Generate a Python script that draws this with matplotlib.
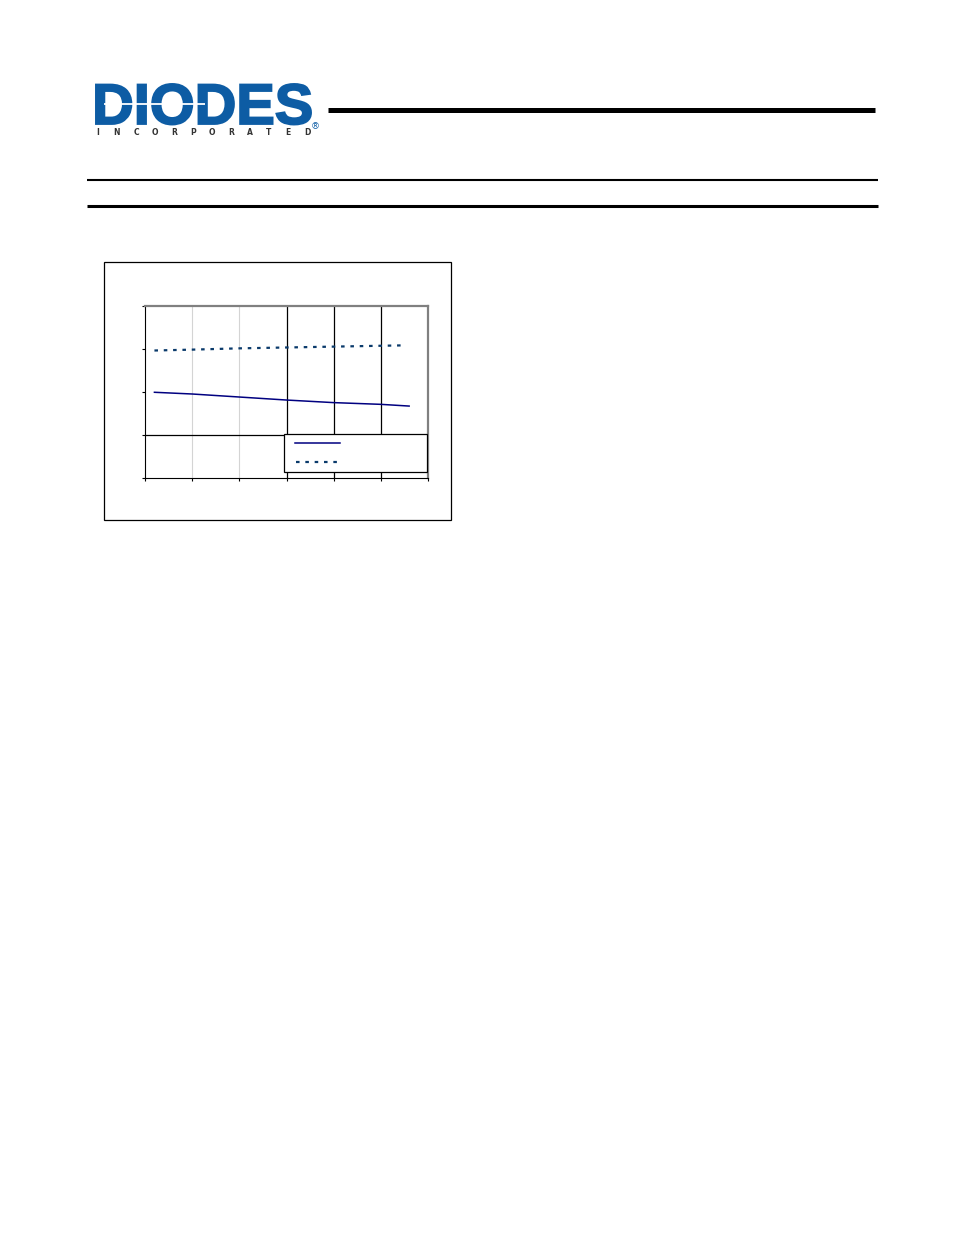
import numpy as np
import matplotlib
matplotlib.use("Agg")
import matplotlib.pyplot as plt
from matplotlib.lines import Line2D
from matplotlib.patches import Rectangle, PathPatch
from matplotlib.textpath import TextPath
from matplotlib.font_manager import FontProperties
from matplotlib.transforms import Affine2D

# chart data (units are axis steps)
x_solid = [0.2, 1, 2, 3, 4, 5, 5.6]
y_solid = [1.99, 1.95, 1.88, 1.81, 1.75, 1.71, 1.67]
x_dash = [0.2, 1, 2, 3, 4, 5, 5.53]
y_dash = [2.96, 2.98, 3.01, 3.03, 3.05, 3.07, 3.08]
x_ticks = [0, 1, 2, 3, 4, 5, 6]
y_ticks = [0, 1, 2, 3, 4]

W, H = 954, 1235
fig = plt.figure(figsize=(W / 100, H / 100), dpi=100)
fig.patch.set_facecolor("white")


def fx(x):
    return x / W


def fy(y):
    return 1 - y / H


def hline(x0, x1, y, lw, color="black"):
    fig.add_artist(Line2D([fx(x0), fx(x1)], [fy(y), fy(y)], lw=lw, color=color,
                          transform=fig.transFigure, solid_capstyle="butt"))


# --- header ---
blue = "#0d5ca4"
prop = FontProperties(family="Liberation Sans", weight="bold")
tp = TextPath((0, 0), "DIODES", size=100, prop=prop)
ext = tp.get_extents()
sx = 215 / ext.width
sy = 40.5 / ext.height
tr = Affine2D().translate(-ext.x0, -ext.y0).scale(sx, sy).translate(96, H - 124.5)
fig.add_artist(PathPatch(tp, transform=tr, facecolor=blue, edgecolor=blue, lw=1.4))
hline(104, 205, 103.5, 1.3, "white")
fig.text(fx(315), fy(126.5), "®", color=blue, fontsize=6.5, ha="center", va="center",
         family="DejaVu Sans")
for i, ch in enumerate("INCORPORATED"):
    fig.text(fx(98 + i * 19), fy(132.5), ch, color="#333333", fontsize=5.5,
             weight="heavy", ha="center", va="center", family="DejaVu Sans")

hline(328, 875, 110.3, 3.6)
hline(87, 878, 180, 1.5)
hline(87, 878, 206, 2.2)

# --- chart frame ---
fig.add_artist(Rectangle((fx(104), fy(520)), fx(451) - fx(104), fy(262) - fy(520),
                         transform=fig.transFigure, fill=False, lw=0.9, edgecolor="black"))

ax = fig.add_axes([fx(145), fy(478), fx(428) - fx(145), fy(305.7) - fy(478)])
ax.set_xlim(0, 6)
ax.set_ylim(0, 4)
ax.set_xticks(x_ticks)
ax.set_yticks(y_ticks)
ax.set_xticklabels([])
ax.set_yticklabels([])
ax.tick_params(direction="out", length=2.5, width=0.8, color="black")
for s in ["top", "right"]:
    ax.spines[s].set_color("#808080")
    ax.spines[s].set_linewidth(1.6)
for s in ["left", "bottom"]:
    ax.spines[s].set_color("black")
    ax.spines[s].set_linewidth(0.8)

for xv in x_ticks[1:3]:
    ax.axvline(xv, color="#d4d4d4", lw=0.8, zorder=1)
for xv in x_ticks[3:6]:
    ax.axvline(xv, color="black", lw=0.9, zorder=1)
ax.axhline(y_ticks[1], color="black", lw=0.9, zorder=1)

ax.plot(x_solid, y_solid, color="#000080", lw=1.1, zorder=3)
ax.plot(x_dash, y_dash, color="#0a3a6b", lw=1.6, linestyle=(0, (1.6, 2.6)), zorder=3)

# legend box (no labels in the original)
ax.add_patch(Rectangle((0.492, 0.035), 0.5055, 0.22, transform=ax.transAxes,
                       facecolor="white", edgecolor="black", lw=0.9, zorder=4))
ax.add_line(Line2D([0.530, 0.689], [0.201, 0.201], transform=ax.transAxes,
                   color="#000080", lw=1.1, zorder=5))
ax.add_line(Line2D([0.534, 0.678], [0.095, 0.095], transform=ax.transAxes,
                   color="#0a3a6b", lw=1.6, linestyle=(0, (1.6, 2.6)), zorder=5))

fig.savefig("out.png", dpi=100)
